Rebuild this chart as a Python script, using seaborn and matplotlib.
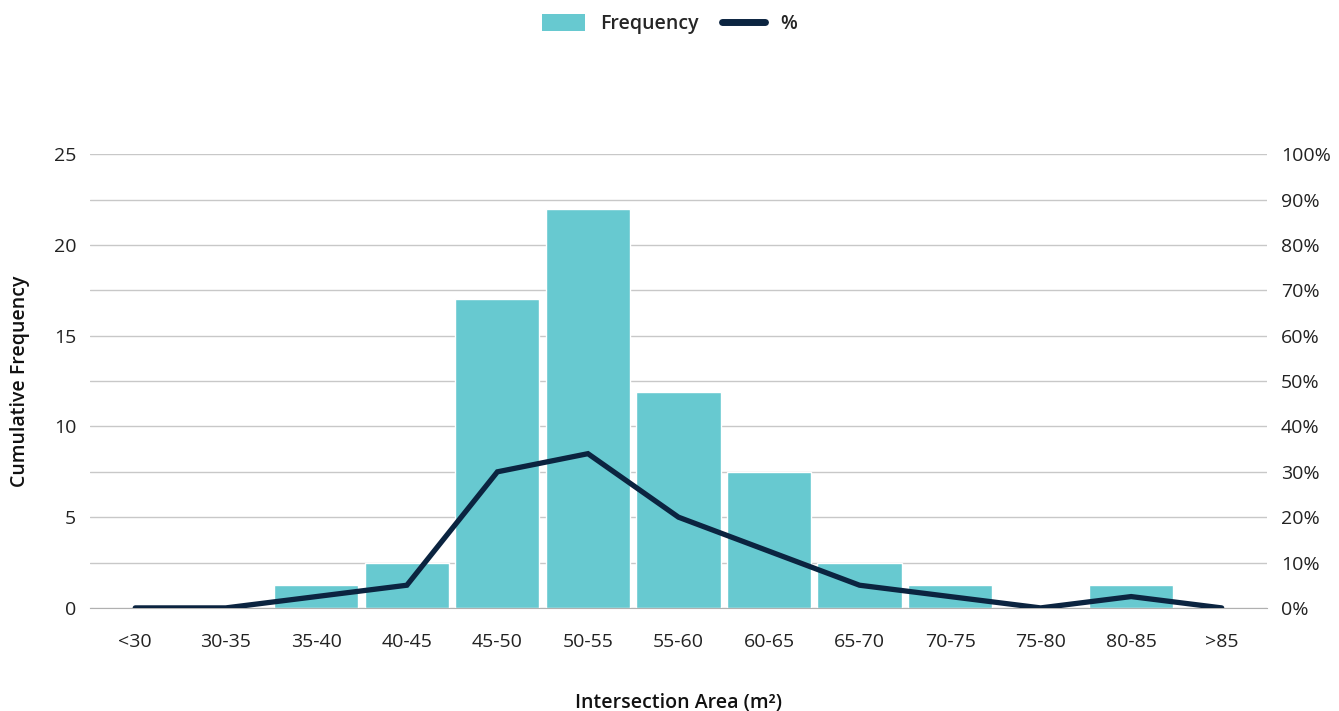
import numpy as np
import pandas as pd
import seaborn as sns
import matplotlib.pyplot as plt
from matplotlib.patches import Patch
from matplotlib.lines import Line2D
from matplotlib.ticker import PercentFormatter

# data
categories = ['<30', '30-35', '35-40', '40-45', '45-50', '50-55', '55-60',
              '60-65', '65-70', '70-75', '75-80', '80-85', '>85']
frequency = [0, 0, 1.27, 2.5, 17, 22, 11.9, 7.5, 2.5, 1.27, 0, 1.27, 0]
percent = [0, 0, 2.5, 5, 30, 34, 20, 12.5, 5, 2.5, 0, 2.5, 0]

bar_color = '#67C9D0'
line_color = '#0B2440'
grid_color = '#C8C8C8'

sns.set_style('white')
plt.rcParams['font.family'] = ['Open Sans', 'DejaVu Sans']

df = pd.DataFrame({'cat': categories, 'freq': frequency, 'pct': percent})

fig = plt.figure(figsize=(13.39, 7.11), dpi=100)
ax = fig.add_axes([0.0672, 0.145, 0.8790, 0.638])

sns.barplot(data=df, x='cat', y='freq', color=bar_color, width=0.93,
            saturation=1, ax=ax, zorder=2)
ax.set_ylim(0, 25)
ax.set_yticks(np.arange(0, 26, 5))
ax.set_yticks(np.arange(0, 25.1, 2.5), minor=True)
ax.grid(axis='y', which='both', color=grid_color, linewidth=1, zorder=0)
ax.set_axisbelow(True)
ax.set_xlim(-0.5, len(categories) - 0.5)

ax2 = ax.twinx()
sns.lineplot(data=df, x='cat', y='pct', color=line_color, linewidth=3.8,
             sort=False, ax=ax2, solid_capstyle='round', solid_joinstyle='miter')
ax2.set_ylim(0, 100)
ax2.set_yticks(np.arange(0, 101, 10))
ax2.yaxis.set_major_formatter(PercentFormatter(decimals=0))
ax2.set_ylabel('')

for a in (ax, ax2):
    for s in a.spines.values():
        s.set_visible(False)
    a.tick_params(axis='y', length=0, labelsize=14, colors='#222222', pad=10)
    a.tick_params(axis='y', which='minor', length=0)
ax.spines['bottom'].set_visible(True)
ax.spines['bottom'].set_color('#B0B0B0')
ax.tick_params(axis='x', length=0, labelsize=14, colors='#222222', pad=18)

ax.set_xlabel('Intersection Area (m²)', fontsize=14, fontweight='semibold',
              labelpad=30, color='#111111')
ax.set_ylabel('Cumulative Frequency', fontsize=14, fontweight='semibold',
              color='#111111')
ax.yaxis.label.set_va('center')
ax.yaxis.set_label_coords(-0.0595, 0.5)

handles = [Patch(facecolor=bar_color, edgecolor='none'),
           Line2D([0], [0], color=line_color, linewidth=5, solid_capstyle='round')]
fig.legend(handles, ['Frequency', '%'], loc='upper center', ncol=2,
           bbox_to_anchor=(0.5, 1.005), frameon=False,
           handlelength=2.2, handleheight=1.0, columnspacing=1.2,
           prop={'weight': 'semibold', 'size': 14})

fig.savefig('out.png', dpi=100)
